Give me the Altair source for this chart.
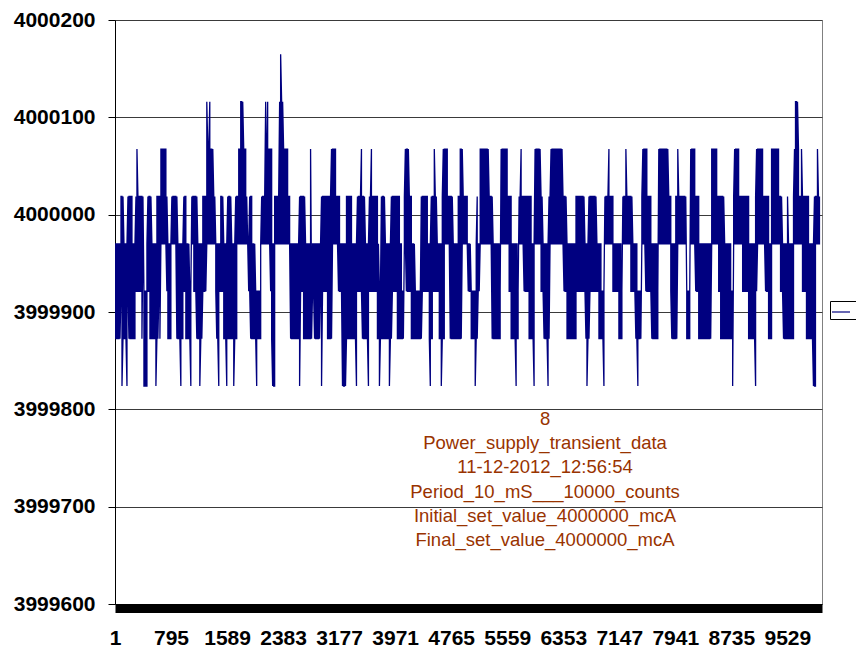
import altair as alt
import pandas as pd

# Quantised current levels (mcA) seen in the trace
levels = [3999823.9, 3999872.6, 3999921.3, 3999970.0,
          4000018.7, 4000067.4, 4000116.1, 4000164.8]

# The trace is read as 707 samples over counts 1..9984.  Each sample is the band
# (lowest level .. highest level) that the 10 ms readings cover there.
n_samples = 707
first_count = 1
last_count = 9984
base_low = 2     # level index the band normally bottoms at
base_high = 3    # level index the band normally tops at

# runs of samples (first, last) where the band reaches a given level
high_runs = {
    4: [(6, 8), (13, 17), (21, 28), (33, 36), (42, 52), (57, 62), (69, 71), (77, 82),
        (88, 100), (106, 108), (113, 116), (121, 132), (135, 137), (147, 157),
        (160, 175), (185, 190), (196, 196), (207, 225), (232, 237), (243, 250),
        (255, 263), (267, 270), (277, 285), (290, 297), (307, 313), (317, 322),
        (328, 338), (344, 353), (363, 363), (366, 378), (387, 397), (405, 417),
        (421, 428), (435, 452), (462, 470), (475, 482), (491, 499), (509, 518),
        (528, 537), (545, 557), (562, 572), (578, 585), (598, 610), (620, 635),
        (642, 655), (658, 668), (674, 674), (680, 695), (701, 706)],
    5: [(22, 22), (46, 51), (92, 98), (124, 131), (151, 157), (165, 173), (196, 196),
        (217, 221), (247, 247), (257, 257), (291, 294), (320, 320), (329, 333),
        (346, 348), (366, 374), (387, 393), (407, 407), (421, 426), (437, 448),
        (495, 495), (512, 512), (529, 533), (545, 554), (564, 564), (577, 581),
        (598, 603), (621, 625), (643, 649), (658, 665), (681, 685), (688, 688),
        (704, 704)],
    6: [(92, 92), (95, 95), (126, 128), (151, 151), (153, 153), (165, 168), (682, 684)],
    7: [(166, 166)],
}
low_runs = {
    1: [(0, 5), (8, 12), (14, 17), (18, 20), (27, 32), (35, 43), (45, 47), (53, 57),
        (62, 68), (71, 78), (82, 87), (102, 104), (109, 116), (117, 122), (136, 148),
        (157, 160), (175, 185), (189, 197), (200, 205), (213, 217), (228, 242),
        (248, 254), (263, 277), (283, 290), (297, 307), (315, 318), (325, 347),
        (357, 363), (378, 387), (397, 405), (415, 420), (430, 435), (453, 462),
        (472, 475), (485, 492), (505, 510), (522, 528), (538, 545), (558, 563),
        (570, 577), (585, 598), (607, 622), (635, 642), (655, 658), (670, 682),
        (693, 703)],
    0: [(7, 7), (12, 12), (29, 32), (41, 41), (66, 66), (76, 76), (85, 85), (104, 104),
        (112, 112), (119, 119), (142, 142), (158, 160), (185, 185), (207, 207),
        (228, 231), (242, 242), (254, 254), (265, 265), (275, 275), (316, 316),
        (327, 327), (361, 361), (402, 402), (420, 420), (434, 434), (473, 473),
        (490, 490), (524, 524), (619, 619), (642, 642), (700, 702)],
}
# runs of samples where the trace never crosses between the 2nd and 3rd level
mid_gap_runs = [(28, 31), (46, 51), (57, 61), (75, 78), (92, 100), (123, 133),
                (141, 145), (147, 155), (161, 175), (197, 197), (218, 223), (265, 266),
                (288, 291), (301, 306), (331, 335), (348, 353), (357, 361), (366, 377),
                (386, 394), (404, 409), (421, 426), (436, 449), (488, 498), (508, 516),
                (524, 531), (544, 556), (564, 581), (598, 604), (618, 628), (644, 651),
                (659, 666), (681, 688), (703, 706)]

x_ticks = [1, 795, 1589, 2383, 3177, 3971, 4765, 5559, 6353, 7147, 7941, 8735, 9529]
y_ticks = [3999600, 3999700, 3999800, 3999900, 4000000, 4000100, 4000200]

note_lines = [
    "8",
    "Power_supply_transient_data",
    "11-12-2012_12:56:54",
    "Period_10_mS___10000_counts",
    "Initial_set_value_4000000_mcA",
    "Final_set_value_4000000_mcA",
]
note_count = 6095
note_current = 3999799.5

series_name = "Series1"

# ---- build the band per sample ----
hi = [base_high] * n_samples
lo = [base_low] * n_samples
for lvl in sorted(high_runs):
    for a, b in high_runs[lvl]:
        for s in range(a, b + 1):
            hi[s] = max(hi[s], lvl)
for lvl in sorted(low_runs, reverse=True):
    for a, b in low_runs[lvl]:
        for s in range(a, b + 1):
            lo[s] = lvl
for a, b in mid_gap_runs:
    for s in range(a, b + 1):
        if hi[s] >= 4:
            lo[s] = 3
        elif lo[s] <= 1:
            hi[s] = 2
        else:
            lo[s] = 3

step = (last_count - first_count) / (n_samples - 1)
rows = []
seq = 0
for s in range(n_samples):
    c = first_count + s * step
    pair = (lo[s], hi[s]) if s % 2 == 0 else (hi[s], lo[s])
    for lv in pair:
        rows.append({"count": c, "current": levels[lv], "seq": seq, "series": series_name})
        seq += 1
df = pd.DataFrame(rows)

x_scale = alt.Scale(domain=[1, 10020], nice=False, zero=False)
y_scale = alt.Scale(domain=[3999600, 4000200], nice=False, zero=False)

FONT = "Liberation Sans"

line = alt.Chart(df).mark_line(strokeWidth=1.3, clip=True).encode(
    x=alt.X("count:Q", scale=x_scale,
            axis=alt.Axis(values=x_ticks, format="d", title=None, grid=False,
                          ticks=False, tickSize=0, domainWidth=9, domainColor="black",
                          offset=4, labelFontSize=21, labelFont=FONT,
                          labelFontWeight="bold", labelColor="black",
                          labelPadding=19, labelFlush=False, labelOverlap=False)),
    y=alt.Y("current:Q", scale=y_scale,
            axis=alt.Axis(values=y_ticks, format="d", title=None, grid=True,
                          gridColor="#3a3a3a", gridWidth=1, tickSize=7,
                          tickColor="black", domainColor="black", domainWidth=1,
                          labelFontSize=21, labelFont=FONT, labelFontWeight="bold",
                          labelColor="black", labelPadding=13)),
    order=alt.Order("seq:Q"),
    color=alt.Color("series:N", scale=alt.Scale(range=["#000080"]),
                    legend=alt.Legend(orient="none", legendX=715, legendY=281,
                                      title=None, strokeColor="black", fillColor="white",
                                      padding=1, symbolType="stroke", symbolSize=324,
                                      symbolStrokeWidth=1.2, labelFontSize=12,
                                      labelOffset=12, labelExpr="''",
                                      labelFont=FONT)),
)

note = alt.Chart(pd.DataFrame({
    "note": ["\n".join(note_lines)],
    "count": [note_count],
    "current": [note_current],
})).mark_text(lineBreak="\n", lineHeight=24.3, align="center", baseline="top",
              fontSize=18.5, font=FONT, color="#993300").encode(
    x=alt.X("count:Q", scale=x_scale),
    y=alt.Y("current:Q", scale=y_scale),
    text="note:N",
)

chart = alt.layer(line, note).properties(
    width=707, height=584,
    autosize=alt.AutoSizeParams(type="none"),
    padding={"left": 115, "top": 20, "right": 34, "bottom": 43},
    background="white",
).configure_view(stroke="#808080", strokeWidth=1)

chart.save("out.html", embed_options={"renderer": "svg", "actions": False})
